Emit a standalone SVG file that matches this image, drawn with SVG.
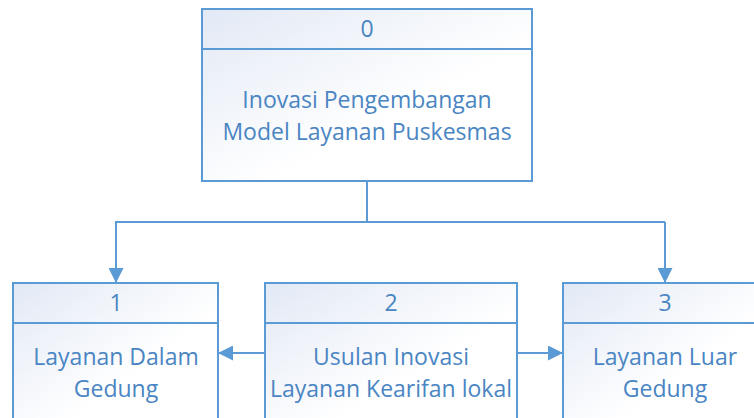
<svg xmlns="http://www.w3.org/2000/svg" width="754" height="418" viewBox="0 0 754 418">
<defs>
<linearGradient id="g" x1="0" y1="0" x2="1" y2="1">
<stop offset="0" stop-color="#e2e9f5"/>
<stop offset="0.6" stop-color="#ffffff"/>
</linearGradient>
<marker id="ah" viewBox="0 0 10 10" refX="10" refY="5" markerWidth="15" markerHeight="15" markerUnits="userSpaceOnUse" orient="auto">
<path d="M0,0 L10,5 L0,10 Z" fill="#5b9bd5"/>
</marker>
<style>
.box{fill:url(#g);stroke:#5b9bd5;stroke-width:2}
.div{stroke:#5b9bd5;stroke-width:2}
.t{font-family:"Open Sans","Noto Sans",sans-serif;font-size:23px;fill:#4a85c3;text-anchor:middle}
.c{fill:none;stroke:#5b9bd5;stroke-width:2}
</style>
</defs>
<rect width="754" height="418" fill="#ffffff"/>
<g id="connectors">
<path class="c" d="M367,181 V222 M115,222 H665"/>
<path class="c" d="M116,222 V283" marker-end="url(#ah)"/>
<path class="c" d="M665,222 V283" marker-end="url(#ah)"/>
<path class="c" d="M265,353 H218" marker-end="url(#ah)"/>
<path class="c" d="M517,353 H563" marker-end="url(#ah)"/>
</g>
<g id="node0">
<rect class="box" x="202" y="9" width="330" height="172"/>
<line class="div" x1="202" y1="49" x2="532" y2="49"/>
<text class="t" x="367" y="37">0</text>
<text class="t" x="367" y="108">Inovasi Pengembangan</text>
<text class="t" x="367" y="140">Model Layanan Puskesmas</text>
</g>
<g id="node1">
<rect class="box" x="13" y="283" width="205" height="150"/>
<line class="div" x1="13" y1="323" x2="218" y2="323"/>
<text class="t" x="116" y="311">1</text>
<text class="t" x="116" y="365">Layanan Dalam</text>
<text class="t" x="116" y="397">Gedung</text>
</g>
<g id="node2">
<rect class="box" x="265" y="283" width="252" height="150"/>
<line class="div" x1="265" y1="323" x2="517" y2="323"/>
<text class="t" x="391" y="311">2</text>
<text class="t" x="391" y="365">Usulan Inovasi</text>
<text class="t" x="391" y="397">Layanan Kearifan lokal</text>
</g>
<g id="node3">
<rect class="box" x="563" y="283" width="205" height="150"/>
<line class="div" x1="563" y1="323" x2="768" y2="323"/>
<text class="t" x="665" y="311">3</text>
<text class="t" x="665" y="365">Layanan Luar</text>
<text class="t" x="665" y="397">Gedung</text>
</g>
</svg>
